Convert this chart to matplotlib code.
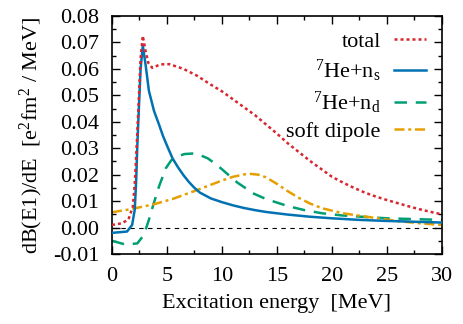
import matplotlib
matplotlib.use("Agg")
import matplotlib.pyplot as plt
from matplotlib.ticker import MultipleLocator

plt.rcParams["font.family"] = ["Liberation Serif", "DejaVu Serif"]
plt.rcParams["mathtext.fontset"] = "custom"
plt.rcParams["mathtext.rm"] = "Liberation Serif"
plt.rcParams["mathtext.it"] = "Liberation Serif:italic"

# total (red dotted)
x_total = [0, 0.9, 1.5, 1.9, 2.07, 2.2, 2.4, 2.6, 2.8, 3.05, 3.3, 3.66, 4.4, 5.2,
           6.5, 7.7, 9.0, 10.0, 11.0, 12.0, 13.0, 14.0, 15.0, 16.0, 17.0,
           18.0, 19.0, 20.0, 21.0, 22.0, 23.0, 24.0, 25.0, 26.0, 27.0, 28.0,
           29.0, 30.0]
y_total = [0.0010, 0.0016, 0.0031, 0.0080, 0.0168, 0.0270, 0.0450, 0.0640,
           0.0725, 0.0668, 0.0623, 0.0604, 0.0617, 0.0618, 0.0600, 0.0575,
           0.0540, 0.0515, 0.0485, 0.0455, 0.0425, 0.0390, 0.0355, 0.0318,
           0.0285, 0.0252, 0.0222, 0.0192, 0.0170, 0.0150, 0.0132, 0.0117,
           0.0104, 0.0092, 0.0080, 0.0069, 0.0059, 0.0050]

# 7He + n (s-wave, blue solid)
x_ns = [0, 1.37, 1.83, 2.07, 2.2, 2.3, 2.44, 2.6, 2.8, 3.05, 3.36, 3.82, 4.27,
        4.64, 5.0, 5.5, 6.0, 6.5, 7.0, 7.5, 8.0, 9.0, 10.0, 11.0, 12.0,
        13.0, 14.0, 16.0, 18.0, 20.0, 22.5, 25.0, 27.5, 30.0]
y_ns = [-0.0020, -0.0015, 0.0010, 0.0068, 0.0180, 0.0308, 0.0450, 0.0600,
        0.0687, 0.0617, 0.0516, 0.0441, 0.0390, 0.0346, 0.0310, 0.0262,
        0.0228, 0.0198, 0.0172, 0.0150, 0.0132, 0.0110, 0.0096, 0.0084,
        0.0074, 0.0066, 0.0059, 0.0049, 0.0041, 0.0035, 0.0029, 0.0025,
        0.0022, 0.0019]

# 7He + n (d-wave, green dashed)
x_nd = [0, 1.22, 2.3, 2.9, 3.35, 3.8, 4.27, 4.9, 5.4, 6.0, 6.6, 7.3, 8.0, 8.7,
        9.3, 9.9, 10.7, 11.4, 12.9, 14.0, 16.0, 17.5, 19.1, 20.9, 23.0, 25.0,
        27.5, 30.0]
y_nd = [-0.0050, -0.0064, -0.0060, -0.0028, 0.0029, 0.0092, 0.0155, 0.0225,
        0.0255, 0.0270, 0.0278, 0.0280, 0.0274, 0.0262, 0.0244, 0.0224,
        0.0195, 0.0170, 0.0128, 0.0108, 0.0081, 0.0066, 0.0054, 0.0046,
        0.0040, 0.0035, 0.0032, 0.0029]

# soft dipole (orange dash-dot)
x_sd = [0, 1.65, 3.8, 5.5, 7.75, 9.0, 10.0, 11.0, 12.0, 12.6, 13.3, 14.0, 15.0,
        16.0, 17.0, 18.0, 19.1, 20.0, 21.0, 23.0, 25.0, 26.1, 28.0, 30.0]
y_sd = [0.0058, 0.0069, 0.0088, 0.0108, 0.0142, 0.0162, 0.0178, 0.0192,
        0.0201, 0.0203, 0.0200, 0.0190, 0.0165, 0.0137, 0.0112, 0.0091,
        0.0073, 0.0064, 0.0054, 0.0042, 0.0030, 0.0024, 0.0016, 0.0010]

fig = plt.figure(figsize=(4.63, 3.24), dpi=100)
ax = fig.add_axes([0.2419, 0.216, 0.7127, 0.7346])

ax.axhline(0, color="black", lw=0.8, linestyle=(0, (4, 4)), zorder=1)

lw = 1.8
ax.plot(x_total, y_total, color="#d8262f", lw=lw, linestyle=(0, (1.2, 1.2)),
        label="total", zorder=4)
ax.plot(x_ns, y_ns, color="#0072b2", lw=lw, linestyle="-",
        label=r"$^{7}$He+n$_{\mathrm{s}}$", zorder=3)
ax.plot(x_nd, y_nd, color="#009e73", lw=lw, linestyle=(0, (5, 3.5)),
        label=r"$^{7}$He+n$_{\mathrm{d}}$", zorder=2)
ax.plot(x_sd, y_sd, color="#e69f00", lw=lw, linestyle=(0, (4, 1.5, 1.2, 1.5)),
        label="soft dipole", zorder=2)

ax.set_xlim(0, 30)
ax.set_ylim(-0.01, 0.08)
ax.xaxis.set_major_locator(MultipleLocator(5))
ax.xaxis.set_minor_locator(MultipleLocator(2.5))
ax.yaxis.set_major_locator(MultipleLocator(0.01))
ax.yaxis.set_minor_locator(MultipleLocator(0.005))
ax.yaxis.set_major_formatter(plt.FuncFormatter(lambda v, p: f"{v:.2f}"))
ax.tick_params(which="both", direction="in", top=True, right=True,
               labelsize=16, width=1.0)
ax.tick_params(which="major", length=6, pad=9)
ax.tick_params(which="minor", length=3)
for s in ax.spines.values():
    s.set_linewidth(1.2)

ax.set_xlabel("Excitation energy  [MeV]", fontsize=16, labelpad=6)
ax.set_ylabel(r"dB(E1)/dE  [e$^{2}$fm$^{2}$ / MeV]", fontsize=16, labelpad=6)

ax.legend(loc="upper right", frameon=False, fontsize=16, markerfirst=False,
          handlelength=1.45, handletextpad=0.6, labelspacing=0.25,
          borderaxespad=0.3)

fig.savefig("out.png", dpi=100)
